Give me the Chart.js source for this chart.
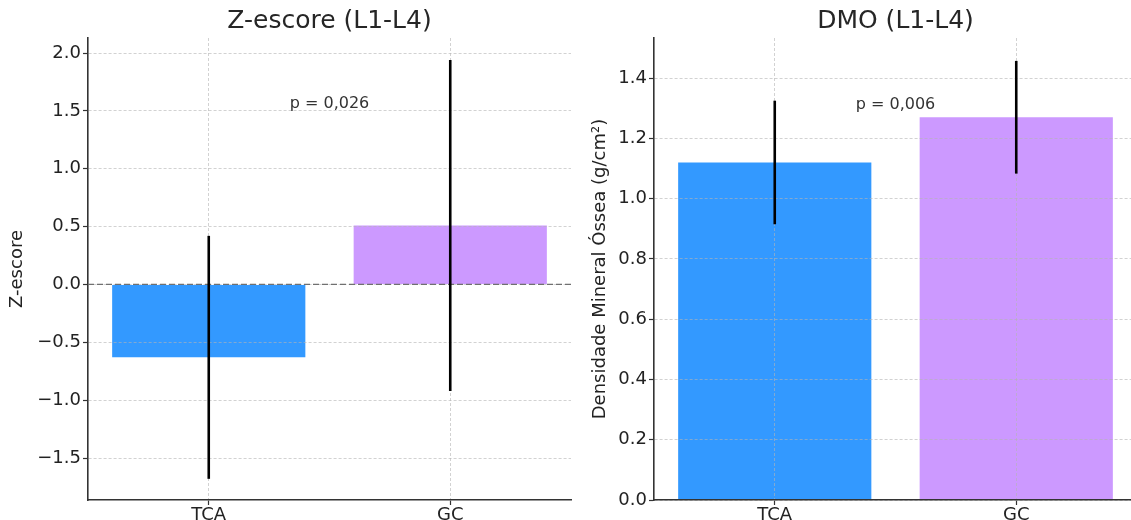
<!DOCTYPE html>
<html>
<head>
<meta charset="utf-8">
<script src="https://cdn.jsdelivr.net/npm/chart.js@4.4.1/dist/chart.umd.min.js"></script>
<style>
  html, body { margin:0; padding:0; background:#fff; }
  #wrap { position:relative; width:1131px; height:520px; overflow:hidden; }
  #zChart { position:absolute; left:0; top:0; }
  #dmoChart { position:absolute; left:575px; top:0; }
</style>
</head>
<body>
<div id="wrap">
  <canvas id="zChart" width="575" height="520"></canvas>
  <canvas id="dmoChart" width="562" height="520"></canvas>
</div>
<script>
// Data
const categories = ['TCA', 'GC'];
const barColors = ['#3399ff', '#cc99ff'];

const zMeans = [-0.63, 0.51];
const zSD = [1.05, 1.43];
const zTicks = [-1.5, -1.0, -0.5, 0.0, 0.5, 1.0, 1.5, 2.0];
const zRange = [-1.863, 2.13];
const zNote = 'p = 0,026';
const zNoteY = 1.56;

const dmoMeans = [1.12, 1.27];
const dmoSD = [0.205, 0.187];
const dmoTicks = [0.0, 0.2, 0.4, 0.6, 0.8, 1.0, 1.2, 1.4];
const dmoRange = [0, 1.533];
const dmoNote = 'p = 0,006';
const dmoNoteY = 1.31;

const FONT = '"DejaVu Sans", "Liberation Sans", sans-serif';
const TXT = '#222';
const GRID = 'rgba(180,180,180,0.6)';

// error bars, zero line and p-value text, drawn on top
const extrasPlugin = {
  id: 'extras',
  afterDraw(chart, args, opts){
    const {ctx, chartArea} = chart;
    const x = chart.scales.x, y = chart.scales.y;
    ctx.save();
    if (opts.zeroLine){
      const y0 = y.getPixelForValue(0);
      ctx.strokeStyle = '#707070';
      ctx.lineWidth = 1.2;
      ctx.setLineDash([6, 3]);
      ctx.beginPath();
      ctx.moveTo(chartArea.left, y0);
      ctx.lineTo(chartArea.right, y0);
      ctx.stroke();
      ctx.setLineDash([]);
    }
    ctx.strokeStyle = '#000';
    ctx.lineWidth = 2.6;
    opts.means.forEach((m, i)=>{
      const px = x.getPixelForValue(i);
      ctx.beginPath();
      ctx.moveTo(px, y.getPixelForValue(m + opts.sd[i]));
      ctx.lineTo(px, y.getPixelForValue(m - opts.sd[i]));
      ctx.stroke();
    });
    const mx = (x.getPixelForValue(0) + x.getPixelForValue(1)) / 2;
    ctx.fillStyle = '#333';
    ctx.font = '16px ' + FONT;
    ctx.textAlign = 'center';
    ctx.textBaseline = 'middle';
    ctx.fillText(opts.note, mx, y.getPixelForValue(opts.noteY));
    ctx.restore();
  }
};

function fmt(v){
  const s = Number(v).toFixed(1);
  return s.startsWith('-') ? '\u2212' + s.slice(1) : s;
}

function makeChart(id, cfg){
  return new Chart(document.getElementById(id), {
    type: 'bar',
    data: {
      labels: categories,
      datasets: [{
        data: cfg.means,
        backgroundColor: barColors,
        borderWidth: 0,
        barPercentage: 0.8,
        categoryPercentage: 1.0
      }]
    },
    plugins: [extrasPlugin],
    options: {
      responsive: false,
      animation: false,
      layout: { padding: { left: 0, right: cfg.padRight, top: 0, bottom: 0 } },
      plugins: {
        legend: { display: false },
        tooltip: { enabled: false },
        title: {
          display: true,
          text: cfg.title,
          fullSize: false,
          color: '#262626',
          font: { family: FONT, size: 25, weight: 'normal' },
          padding: { top: 6, bottom: 2 }
        },
        extras: {
          means: cfg.means, sd: cfg.sd, note: cfg.note, noteY: cfg.noteY,
          zeroLine: cfg.zeroLine
        }
      },
      scales: {
        x: {
          offset: true,
          grid: {
            offset: false, color: GRID, lineWidth: 1, z: 1,
            tickLength: 5, tickColor: '#333', tickWidth: 1.2
          },
          border: { display: true, color: '#333', width: 1.6, dash: [3, 2], z: 2 },
          ticks: { color: TXT, font: { family: FONT, size: 18 }, padding: 0 },
          afterFit(s){ s.height = 20; }
        },
        y: {
          min: cfg.range[0],
          max: cfg.range[1],
          afterBuildTicks(s){ s.ticks = cfg.ticks.map(v=>({value: v})); },
          grid: {
            color: GRID, lineWidth: 1, z: 1,
            tickLength: 5, tickColor: '#333', tickWidth: 1.2
          },
          border: { display: true, color: '#333', width: 1.6, dash: [3, 2], z: 2 },
          ticks: {
            color: TXT, padding: 2,
            font: { family: FONT, size: 18 },
            callback: v => fmt(v)
          },
          title: {
            display: true,
            text: cfg.yTitle,
            color: TXT,
            font: { family: FONT, size: 18 },
            padding: { top: cfg.titlePad, bottom: 0 }
          },
          afterFit(s){ s.width = cfg.axisWidth; }
        }
      }
    }
  });
}

makeChart('zChart', {
  title: 'Z-escore (L1-L4)', yTitle: 'Z-escore',
  means: zMeans, sd: zSD, ticks: zTicks, range: zRange,
  note: zNote, noteY: zNoteY, zeroLine: true,
  axisWidth: 88, padRight: 4, titlePad: 7
});

// right panel is wider than the window: its right edge is cut off, as in the original
makeChart('dmoChart', {
  title: 'DMO (L1-L4)', yTitle: 'Densidade Mineral \u00d3ssea (g/cm\u00b2)',
  means: dmoMeans, sd: dmoSD, ticks: dmoTicks, range: dmoRange,
  note: dmoNote, noteY: dmoNoteY, zeroLine: false,
  axisWidth: 79, padRight: 0, titlePad: 15
});
</script>
</body>
</html>
